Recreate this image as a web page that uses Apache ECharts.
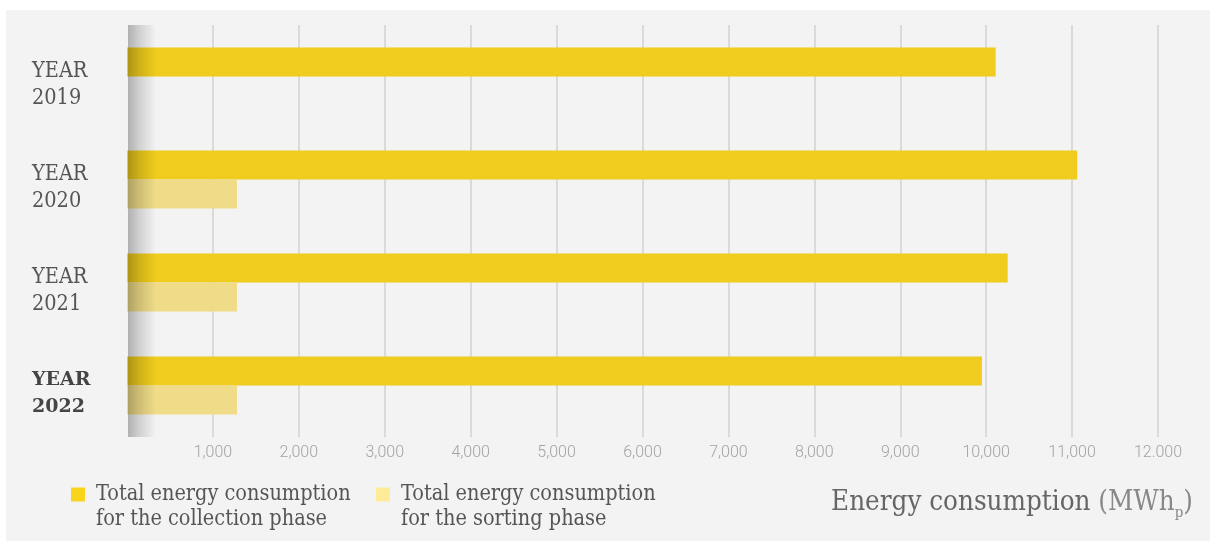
<!DOCTYPE html>
<html>
<head>
<meta charset="utf-8">
<script src="https://cdn.jsdelivr.net/npm/echarts@6/dist/echarts.min.js"></script>
<style>
  html, body { margin: 0; padding: 0; background: #ffffff; }
  #panel { position: absolute; left: 6px; top: 10px; right: 0; bottom: 0; background: #f3f3f3; }
  #chart { position: absolute; left: 0; top: 0; width: 1210px; height: 541px; }
</style>
</head>
<body>
<div id="panel"></div>
<div id="chart"></div>
<script>
// Yearly energy consumption (MWh_p) of the waste service
const years = [2019, 2020, 2021, 2022];
const collectionEnergy = [10110, 11060, 10250, 9950];
const sortingEnergy = [null, 1280, 1280, 1280];
const seriesNames = [
  'Total energy consumption\nfor the collection phase',
  'Total energy consumption\nfor the sorting phase'
];
const xTickLabels = ['', '1,000', '2,000', '3,000', '4,000', '5,000', '6,000',
  '7,000', '8,000', '9,000', '10,000', '11,000', '12.000'];
const highlightYear = 2022;

const SERIF = "'DejaVu Serif Condensed', 'DejaVu Serif', serif";
const SERIF_BOLD = "'DejaVu Serif', serif";
const GRID = { left: 127, right: 52, top: 25, bottom: 104 };

const chart = echarts.init(document.getElementById('chart'), null, { renderer: 'canvas' });

// the leading blank line keeps the swatch level with the first text line
const legendText = {
  color: '#555',
  fontFamily: SERIF,
  fontSize: 21.5,
  lineHeight: 25,
  padding: [0, 0, 0, 6]
};
const legendBase = {
  top: 457, padding: 0,
  itemWidth: 14, itemHeight: 14,
  icon: 'rect',
  selectedMode: false,
  formatter: name => '\n' + name,
  textStyle: legendText
};

chart.setOption({
  backgroundColor: 'transparent',
  animation: false,
  grid: GRID,
  xAxis: {
    type: 'value',
    min: 0,
    max: 12000,
    interval: 1000,
    axisLine: { show: false },
    axisTick: { show: false },
    splitLine: { show: true, showMinLine: false, lineStyle: { color: '#dadada', width: 2 } },
    axisLabel: {
      margin: 8,
      color: '#a3a3a3',
      fontFamily: 'Roboto',
      fontWeight: 300,
      fontSize: 16,
      formatter: v => xTickLabels[Math.round(v / 1000)] || ''
    }
  },
  yAxis: {
    type: 'category',
    inverse: true,
    data: years,
    axisLine: { show: false },
    axisTick: { show: false },
    splitLine: { show: false },
    axisLabel: {
      align: 'left',
      margin: 95,
      formatter: y => String(y) === String(highlightYear)
        ? '{b|YEAR}\n{b|' + y + '}'
        : '{n|YEAR}\n{n|' + y + '}',
      padding: [16, 0, 0, 0],
      rich: {
        n: { color: '#555', fontFamily: SERIF, fontSize: 21.5, lineHeight: 27 },
        b: { color: '#444', fontFamily: SERIF_BOLD, fontSize: 19, lineHeight: 27, fontWeight: 'bold' }
      }
    }
  },
  legend: [
    Object.assign({ left: 71, data: [{ name: seriesNames[0], itemStyle: { color: '#f8d51c' } }] }, legendBase),
    Object.assign({ left: 376, data: [{ name: seriesNames[1], itemStyle: { color: '#fdeb97' } }] }, legendBase)
  ],
  series: [
    {
      name: seriesNames[0],
      type: 'bar',
      data: collectionEnergy,
      barWidth: 29,
      barGap: '0%',
      itemStyle: { color: '#efcc1d' }
    },
    {
      name: seriesNames[1],
      type: 'bar',
      data: sortingEnergy,
      barWidth: 29,
      barGap: '0%',
      itemStyle: { color: '#f0dc88' }
    }
  ],
  graphic: [
    // soft shadow along the left edge of the plot
    {
      type: 'rect',
      z: 100,
      silent: true,
      shape: { x: GRID.left + 1, y: GRID.top, width: 28, height: 541 - GRID.top - GRID.bottom },
      style: {
        fill: new echarts.graphic.LinearGradient(0, 0, 1, 0, [
          { offset: 0, color: 'rgba(0,0,0,0.27)' },
          { offset: 0.4, color: 'rgba(0,0,0,0.14)' },
          { offset: 1, color: 'rgba(0,0,0,0)' }
        ])
      }
    },
    // axis title: Energy consumption (MWh_p)
    {
      type: 'text', right: 17, top: 489, silent: true,
      style: {
        text: '{a|Energy consumption }{b|(MWh}{s|p}{b|)}',
        rich: {
          a: { fill: '#666', fontFamily: SERIF, fontSize: 27.5, lineHeight: 36, verticalAlign: 'middle' },
          b: { fill: '#888', fontFamily: SERIF, fontSize: 27.5, lineHeight: 36, verticalAlign: 'middle' },
          s: { fill: '#888', fontFamily: SERIF, fontSize: 15, lineHeight: 15, verticalAlign: 'bottom' }
        }
      }
    }
  ]
});
</script>
</body>
</html>
